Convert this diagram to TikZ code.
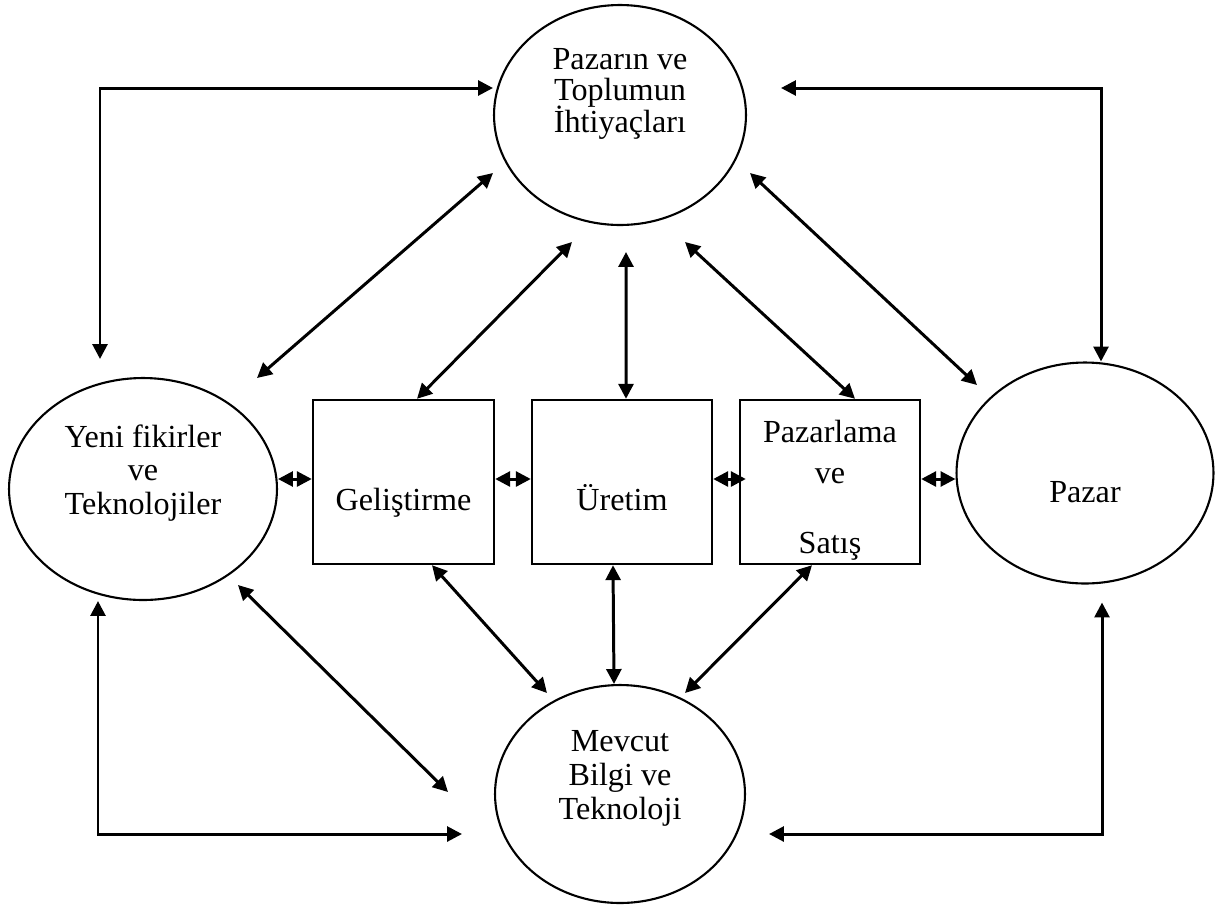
\documentclass[tikz,border=0pt]{standalone}
\usepackage{fontspec}
\setmainfont{Liberation Serif}
\usetikzlibrary{arrows.meta, positioning, shapes.geometric}

\begin{document}
\begin{tikzpicture}[
        x=0.02cm, y=-0.02cm,
        oval/.style={ellipse, draw, line width=1.2pt, inner sep=0pt},
        kutu/.style={rectangle, draw, line width=1.4pt, inner sep=0pt, minimum width=3.6cm, minimum height=3.28cm},
        yazi/.style={align=center, inner sep=0pt, font=\fontsize{18.3}{19.3}\selectfont},
        ok/.style={{Triangle[length=8.5pt,width=8.5pt]}-{Triangle[length=8.5pt,width=8.5pt]}, line width=1.7pt}
    ]
        \useasboundingbox[fill=white] (0,0) rectangle (1223,907);

        \node[oval, minimum width=5.04cm, minimum height=4.4cm] (ust) at (620,115) {};
        \node[oval, minimum width=5.36cm, minimum height=4.44cm] (sol) at (143,489) {};
        \node[oval, minimum width=5.14cm, minimum height=4.42cm] (sag) at (1085,473) {};
        \node[oval, minimum width=5.0cm, minimum height=4.36cm] (alt) at (620,794) {};
        \node[kutu, minimum width=3.62cm] (gel) at (403.5,482) {};
        \node[kutu] (ure) at (622,482) {};
        \node[kutu] (paz) at (830,482) {};

        \node[yazi, font={\fontsize{18.3}{17.9}\selectfont\lineskiplimit=-100pt\relax}] (ustyazi) at (ust.center |- 0,93.5) {Pazarın ve\\Toplumun\\İhtiyaçları};
        \node[yazi] (solyazi) at (sol.center |- 0,473) {Yeni fikirler\\ve\\Teknolojiler};
        \node[yazi, anchor=base] (sagyazi) at (sag.center |- 0,502) {Pazar};
        \node[yazi] (altyazi) at (alt.center |- 0,778) {Mevcut\\Bilgi ve\\Teknoloji};
        \node[yazi, anchor=base] (gelyazi) at (gel.center |- 0,510) {Geliştirme};
        \node[yazi, anchor=base] (ureyazi) at (ure.center |- 0,510) {Üretim};
        \node[yazi, font=\fontsize{18.3}{23.2}\selectfont] (pazyazi) at (paz.center |- 0,490) {Pazarlama\\ve\\[16.5pt]Satış};

        \coordinate (orta) at (0,479);
        \draw[ok] (sol.east |- orta) -- (gel.west |- orta);
        \draw[ok] (gel.east |- orta) -- (ure.west |- orta);
        \draw[ok, shorten >=-0.14cm] (ure.east |- orta) -- (paz.west |- orta);
        \draw[ok] (paz.east |- orta) -- (sag.west |- orta);

        \coordinate (k1) at (100,88);
        \coordinate (k2) at (1101,88);
        \coordinate (k3) at (98,834);
        \coordinate (k4) at (1102,834);
        \draw[ok, shorten >=0.36cm] (ust.west |- k1) -- (k1) -- (k1 |- sol.north);
        \draw[ok, shorten >=0.68cm] (k2 |- sag.north) -- (k2) -- (ust.east |- k2);
        \draw[ok, shorten >=0.64cm] (k3 |- sol.south) -- (k3) -- (alt.west |- k3);
        \draw[ok, shorten <=0.36cm, shorten >=0.46cm] (k4 |- sag.south) -- (k4) -- (alt.east |- k4);

        \draw[ok] ([shift={(-127,58)}]ust.center) -- ([shift={(114,-111)}]sol.center);
        \draw[ok] ([shift={(130,58)}]ust.center) -- ([shift={(-108,-88)}]sag.center);
        \draw[ok] ([shift={(-48,127)}]ust.center) -- ([xshift=0.27cm]gel.north);
        \draw[ok] ([shift={(6,137)}]ust.center) -- ([xshift=0.08cm]ure.north);
        \draw[ok] ([shift={(65,127)}]ust.center) -- ([xshift=0.5cm]paz.north);
        \draw[ok] ([xshift=0.57cm]gel.south) -- ([shift={(-73,-101)}]alt.center);
        \draw[ok] ([xshift=-0.18cm]ure.south) -- ([xshift=-0.12cm]alt.north);
        \draw[ok] ([xshift=-0.36cm]paz.south) -- ([shift={(65,-101)}]alt.center);
        \draw[ok] ([shift={(95,96)}]sol.center) -- ([shift={(-172,-2)}]alt.center);
    \end{tikzpicture}
\end{document}
